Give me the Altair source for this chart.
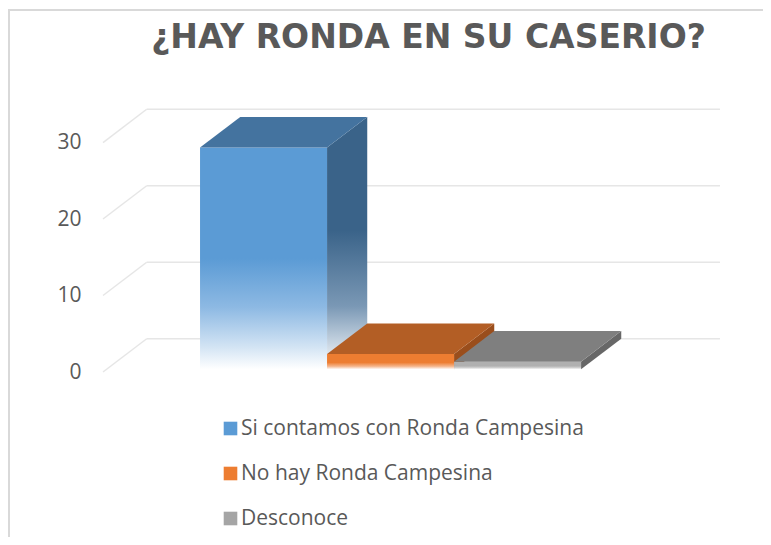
import altair as alt
import pandas as pd

# ---- data ----
categories = ["Si contamos con Ronda Campesina", "No hay Ronda Campesina", "Desconoce"]
values = [29, 2, 1]
y_ticks = [0, 10, 20, 30]
title_text = "¿HAY RONDA EN SU CASERIO?"

front_colors = ["#5B9BD5", "#ED7D31", "#A5A5A5"]
top_colors = ["#44739F", "#B35E25", "#7F7F7F"]
side_colors = ["#385F86", "#9A4E1C", "#676767"]

# ---- pseudo-3D geometry (in data units) ----
DX, DY = 0.344, 4.35      # depth vector of the floor / walls
F0, F1 = 0.08, 1.0        # bar depth range (fraction of full depth)
X_DOMAIN = [-0.764, 4.094]
Y_DOMAIN = [0, 35.56]
xs = alt.Scale(domain=X_DOMAIN, nice=False, zero=False)
ys = alt.Scale(domain=Y_DOMAIN, nice=False, zero=False)

GRID = "#E6E6E6"
TEXT = "#595959"

yaxis = alt.Axis(values=y_ticks, grid=False, domain=False, ticks=False, title=None,
                 labelPadding=22, labelFont="Open Sans", labelFontSize=21, labelColor=TEXT)


def X(field):
    return alt.X(field, scale=xs, axis=None)


def Y(field):
    return alt.Y(field, scale=ys, axis=yaxis)


# gridlines: back horizontal lines + diagonal "floor" lines at the left
back_df = pd.DataFrame({
    "x": [X_DOMAIN[0] + DX] * len(y_ticks),
    "x2": [X_DOMAIN[1]] * len(y_ticks),
    "y": [v + DY for v in y_ticks],
})
diag_df = pd.DataFrame({
    "x": [X_DOMAIN[0]] * len(y_ticks),
    "x2": [X_DOMAIN[0] + DX] * len(y_ticks),
    "y": y_ticks,
    "y2": [v + DY for v in y_ticks],
})

back_lines = alt.Chart(back_df).mark_rule(color=GRID, strokeWidth=1.5).encode(
    x=X("x:Q"), x2="x2:Q", y=Y("y:Q"),
)
diag_lines = alt.Chart(diag_df).mark_rule(color=GRID, strokeWidth=1.5).encode(
    x=X("x:Q"), x2="x2:Q", y=Y("y:Q"), y2="y2:Q",
)


def grad(stops):
    return alt.Gradient(
        gradient="linear", x1=0, y1=0, x2=0, y2=1,
        stops=[alt.GradientStop(offset=o, color=c) for o, c in stops],
    )


front_grads = [
    grad([(0, "#5B9BD5"), (0.5, "#5B9BD5"), (0.72, "#8DB9E3"), (0.9, "#D3E4F4"), (1, "#FFFFFF")]),
    grad([(0, "#ED7D31"), (0.55, "#ED7D31"), (0.8, "#F5B48A"), (1, "#FFFFFF")]),
    grad([(0, "#B0B0B0"), (0.55, "#B0B0B0"), (0.8, "#D2D2D2"), (1, "#FFFFFF")]),
]
side_grads = [
    grad([(0, "#3A6389"), (0.45, "#3A6389"), (0.75, "#7A98B5"), (0.95, "#E4EBF2"), (1, "#F4F7FA")]),
    grad([(0, side_colors[1]), (1, side_colors[1])]),
    grad([(0, side_colors[2]), (1, side_colors[2])]),
]

S = DX * F0   # shift so that each bar's front face starts at its category position
sides, fronts, tops = [], [], []
for i, (cat, v) in enumerate(zip(categories, values)):
    side_df = pd.DataFrame({
        "x": [i + 1 + DX * F0 - S, i + 1 + DX * F1 - S],
        "y": [DY * F0, DY * F1],
        "y2": [v + DY * F0, v + DY * F1],
    })
    sides.append(alt.Chart(side_df).mark_area(color=side_grads[i], orient="vertical").encode(
        x=X("x:Q"), y=Y("y:Q"), y2="y2:Q",
    ))
    front_df = pd.DataFrame({
        "x": [i + DX * F0 - S], "x2": [i + 1 + DX * F0 - S],
        "y": [DY * F0], "y2": [v + DY * F0],
    })
    fronts.append(alt.Chart(front_df).mark_bar(color=front_grads[i]).encode(
        x=X("x:Q"), x2="x2:Q", y=Y("y:Q"), y2="y2:Q",
    ))
    top_df = pd.DataFrame({
        "y": [v + DY * F0, v + DY * F1],
        "x": [i + DX * F0 - S, i + DX * F1 - S],
        "x2": [i + 1 + DX * F0 - S, i + 1 + DX * F1 - S],
    })
    tops.append(alt.Chart(top_df).mark_area(color=top_colors[i], orient="horizontal").encode(
        y=Y("y:Q"), x=X("x:Q"), x2="x2:Q",
    ))

# invisible layer that carries the legend
legend_df = pd.DataFrame({
    "cat": categories,
    "x": [float(i) for i in range(len(categories))],
    "x2": [i + 1.0 for i in range(len(categories))],
    "y": [DY * F0] * len(categories),
    "y2": [v + DY * F0 for v in values],
})
legend_layer = alt.Chart(legend_df).mark_bar(opacity=0).encode(
    x=X("x:Q"), x2="x2:Q", y=Y("y:Q"), y2="y2:Q",
    color=alt.Color("cat:N", scale=alt.Scale(domain=categories, range=front_colors),
                    legend=alt.Legend(
                        orient="none", legendX=117, legendY=318, title=None,
                        direction="vertical", symbolType="square", symbolSize=185,
                        symbolOpacity=1, symbolStrokeWidth=0,
                        labelFont="Open Sans", labelFontSize=21, labelColor=TEXT,
                        labelLimit=500, labelOffset=0, rowPadding=23, padding=0)),
)

# chart frame (decorative border)
one = pd.DataFrame({"k": [0]})
border_top = alt.Chart(one).mark_rule(color="#D9D9D9", strokeWidth=2).encode(
    x=alt.value(-95), x2=alt.value(660), y=alt.value(-90))
border_left = alt.Chart(one).mark_rule(color="#D9D9D9", strokeWidth=2).encode(
    x=alt.value(-94), y=alt.value(-91), y2=alt.value(437))

chart = alt.layer(
    border_top, border_left, back_lines, diag_lines,
    *sides, *fronts, *tops, legend_layer,
).properties(
    width=617, height=272,
    title=alt.TitleParams(title_text, font="DejaVu Sans", fontSize=33, fontWeight="bold",
                          color=TEXT, anchor="middle", dx=17, dy=51, offset=4),
    autosize=alt.AutoSizeParams(type="none"),
    padding={"left": 95, "top": 92, "right": 43, "bottom": 165},
).configure_view(stroke=None)

chart.save("out.html", embed_options={"renderer": "svg", "actions": False})
